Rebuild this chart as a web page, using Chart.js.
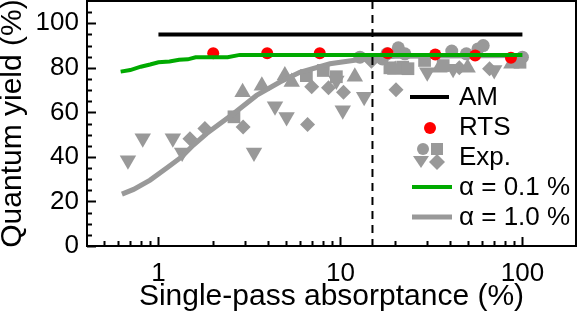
<!DOCTYPE html>
<html>
<head>
<meta charset="utf-8">
<script src="https://cdn.jsdelivr.net/npm/chart.js@4"></script>
<style>
  html, body { margin: 0; padding: 0; background: #fff; }
  #wrap { width: 578px; height: 315px; }
</style>
</head>
<body>
<div id="wrap"><canvas id="c" width="578" height="315"></canvas></div>
<script>
// valeurs
const xTicks = [1, 10, 100];
const yTicks = [0, 20, 40, 60, 80, 100];
const dashX = 15;

const amX = [1, 100];
const amY = [95, 95];

const rtsX = [2, 3.96, 7.7, 18.2, 33.2, 55, 86.5];
const rtsY = [86.5, 86.5, 86.5, 86.5, 86, 85.5, 84.5];

const a01X = [0.62, 0.7, 0.8, 0.9, 1.0, 1.15, 1.3, 1.45, 1.6, 2.4, 2.8, 100];
const a01Y = [78.3, 79, 80.5, 81.5, 82.5, 82.8, 83.6, 83.8, 84.7, 84.8, 85.8, 85.8];

const a10X = [0.63, 0.73, 0.9, 1.13, 1.34, 1.55, 1.84, 2.58, 3.46, 4.65, 5.98, 8.76, 10, 15, 20, 100];
const a10Y = [23.3, 25.4, 29.6, 35.5, 40, 45.2, 50.5, 59.4, 67.6, 73.6, 78, 81.8, 82.5, 84.5, 85.2, 85.5];

// Exp. : cercles, carrés, triangles, triangles inversés, losanges
const circX = [12.8, 17, 18, 20.8, 22.6, 40.9, 49.2, 57, 60.9, 100];
const circY = [84.8, 84, 86.3, 89, 86.3, 87.5, 86.3, 88.5, 90, 84.8];

const sqX = [2.6, 6.5, 8.05, 9.5, 18.7, 22, 23.5, 29, 36.7, 97];
const sqY = [58, 76.5, 78.8, 76, 80, 80.3, 79.6, 83.3, 81, 82.5];

const triX = [2.9, 3.7, 4.95, 5.4, 12, 20, 35, 50, 87];
const triY = [69, 72, 76.6, 73.6, 76, 79, 80, 80, 81.8];

const dtriX = [0.68, 0.82, 1.2, 1.35, 3.35, 4.37, 5.06, 9.5, 10.3, 13.5, 30, 41.6, 70];
const dtriY = [38.5, 48.4, 48.4, 42, 42, 62.7, 57.9, 74.3, 60.9, 67, 78, 79.6, 79];

const diaX = [1.49, 1.8, 2.92, 6.6, 6.95, 8.6, 10.4, 14.8, 20.2, 45, 66];
const diaY = [48.2, 52.7, 53.4, 54.6, 71.5, 71, 69, 83, 70.2, 80, 79.6];

const GRAY = 'rgb(153,153,153)';
const GREEN = 'rgb(0,170,0)';
const FONT = "'Liberation Sans', Arial, sans-serif";
const AREA = { left: 87, right: 576, top: 1, bottom: 246 };

const pts = (xs, ys) => xs.map((x, i) => ({ x: x, y: ys[i] }));

function lineSet(xs, ys, color, w) {
  return { type: 'line', data: pts(xs, ys), borderColor: color, borderWidth: w,
           pointRadius: 0, fill: false, tension: 0 };
}
function markSet(xs, ys, style, r, rot) {
  return { type: 'scatter', data: pts(xs, ys), pointStyle: style, pointRadius: r,
           rotation: rot || 0, backgroundColor: GRAY, borderWidth: 0 };
}

// force la zone de tracé à la même place que sur la figure
const fixArea = {
  id: 'fixArea',
  afterLayout(chart) {
    const a = chart.chartArea, xs = chart.scales.x, ys = chart.scales.y;
    Object.assign(a, AREA);
    a.width = AREA.right - AREA.left;
    a.height = AREA.bottom - AREA.top;
    Object.assign(xs, { left: AREA.left, right: AREA.right, width: a.width,
                        top: AREA.bottom, bottom: chart.height, height: chart.height - AREA.bottom });
    Object.assign(ys, { left: 0, right: AREA.left, width: AREA.left,
                        top: AREA.top, bottom: AREA.bottom, height: a.height });
    xs.configure();
    ys.configure();
  }
};

// cadre, graduations intérieures, ligne pointillée, légende
const decor = {
  id: 'decor',
  afterDatasetsDraw(chart) {
    const ctx = chart.ctx, a = chart.chartArea;
    const xs = chart.scales.x, ys = chart.scales.y;
    ctx.save();
    ctx.strokeStyle = '#000';
    ctx.lineWidth = 2;
    // pointillés
    const dx = xs.getPixelForValue(dashX);
    ctx.setLineDash([8, 6]);
    ctx.beginPath(); ctx.moveTo(dx, a.top); ctx.lineTo(dx, a.bottom); ctx.stroke();
    ctx.setLineDash([]);
    // graduations x
    for (let d = -1; d <= 2; d++) {
      for (let k = 1; k <= 9; k++) {
        const v = k * Math.pow(10, d);
        if (v < xs.min || v > xs.max) continue;
        const p = Math.round(xs.getPixelForValue(v)) + 0.5;
        const len = k === 1 ? 9 : 5;
        ctx.beginPath(); ctx.moveTo(p, a.bottom); ctx.lineTo(p, a.bottom - len); ctx.stroke();
      }
    }
    // graduations y
    for (let v = 0; v <= 105; v += 5) {
      const p = Math.round(ys.getPixelForValue(v)) + 0.5;
      const len = v % 20 === 0 ? 9 : 5;
      ctx.beginPath(); ctx.moveTo(a.left, p); ctx.lineTo(a.left + len, p); ctx.stroke();
    }
    ctx.strokeRect(a.left, a.top, a.right - a.left, a.bottom - a.top);

    // légende
    const tx = 459;
    ctx.font = '26px ' + FONT;
    ctx.fillStyle = '#000';
    ctx.textBaseline = 'middle';
    ctx.textAlign = 'left';
    ctx.fillText('AM', tx, 98);
    ctx.fillText('RTS', tx, 128);
    ctx.fillText('Exp.', tx, 158);
    ctx.fillText('\u03b1 = 0.1 %', tx, 188);
    ctx.fillText('\u03b1 = 1.0 %', tx, 218);
    ctx.lineWidth = 4;
    ctx.strokeStyle = '#000';
    ctx.beginPath(); ctx.moveTo(410, 97); ctx.lineTo(449, 97); ctx.stroke();
    ctx.strokeStyle = GREEN;
    ctx.beginPath(); ctx.moveTo(412, 187); ctx.lineTo(452, 187); ctx.stroke();
    ctx.strokeStyle = GRAY; ctx.lineWidth = 5;
    ctx.beginPath(); ctx.moveTo(412, 217); ctx.lineTo(452, 217); ctx.stroke();
    ctx.fillStyle = 'red';
    ctx.beginPath(); ctx.arc(430, 128, 6, 0, Math.PI * 2); ctx.fill();
    ctx.fillStyle = GRAY;
    ctx.beginPath(); ctx.arc(423, 149, 6, 0, Math.PI * 2); ctx.fill();
    ctx.fillRect(431, 143, 12, 12);
    ctx.beginPath(); ctx.moveTo(413, 156); ctx.lineTo(429, 156); ctx.lineTo(421, 168); ctx.closePath(); ctx.fill();
    ctx.beginPath(); ctx.moveTo(437, 154); ctx.lineTo(445, 162); ctx.lineTo(437, 170); ctx.lineTo(429, 162); ctx.closePath(); ctx.fill();
    ctx.restore();
  }
};

new Chart(document.getElementById('c'), {
  type: 'scatter',
  data: {
    datasets: [
      lineSet(amX, amY, '#000', 4),
      lineSet(a01X, a01Y, GREEN, 4),
      { type: 'scatter', data: pts(rtsX, rtsY), pointStyle: 'circle', pointRadius: 6,
        backgroundColor: 'red', borderWidth: 0 },
      lineSet(a10X, a10Y, GRAY, 5),
      markSet(circX, circY, 'circle', 6.5),
      markSet(sqX, sqY, 'rect', 9),
      markSet(triX, triY, 'triangle', 9.5),
      markSet(dtriX, dtriY, 'triangle', 9.5, 180),
      markSet(diaX, diaY, 'rectRot', 7.5)
    ]
  },
  options: {
    responsive: false,
    animation: false,
    plugins: { legend: { display: false }, tooltip: { enabled: false } },
    scales: {
      x: {
        type: 'logarithmic', min: 0.405, max: 197,
        grid: { display: false, drawTicks: false },
        border: { display: false },
        afterBuildTicks: s => { s.ticks = xTicks.map(v => ({ value: v })); },
        ticks: { color: '#000', padding: 12, maxRotation: 0, autoSkip: false,
                 font: { family: FONT, size: 26 }, callback: v => String(v) },
        title: { display: true, text: 'Single-pass absorptance (%)', color: '#000',
                 font: { family: FONT, size: 30 }, padding: { top: 0, bottom: 0 } }
      },
      y: {
        min: 0, max: 110,
        grid: { display: false, drawTicks: false },
        border: { display: false },
        afterBuildTicks: s => { s.ticks = yTicks.map(v => ({ value: v })); },
        ticks: { color: '#000', padding: 8, font: { family: FONT, size: 26 } },
        title: { display: true, text: 'Quantum yield (%)', color: '#000',
                 font: { family: FONT, size: 30, lineHeight: 0.84 }, padding: { top: 0, bottom: 0 } }
      }
    }
  },
  plugins: [fixArea, decor]
});
</script>
</body>
</html>
